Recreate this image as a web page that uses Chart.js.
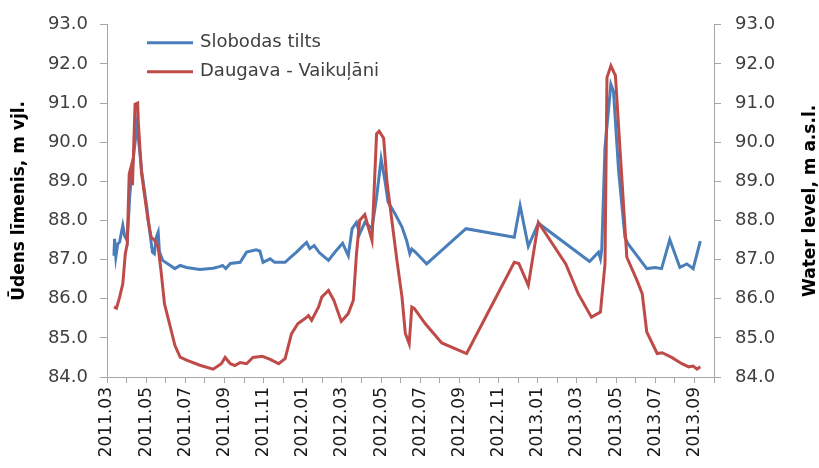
<!DOCTYPE html>
<html>
<head>
<meta charset="utf-8">
<script src="https://cdn.jsdelivr.net/npm/chart.js@4.4.0/dist/chart.umd.min.js"></script>
<style>
  body { margin: 0; background: #fff; }
</style>
</head>
<body>
<canvas id="chart" width="819" height="468"></canvas>
<script>
// Slobodas tilts (blue)
const blueDates = ['2011-03-12','2011-03-13','2011-03-15','2011-03-18','2011-03-21','2011-03-26','2011-03-29','2011-04-02','2011-04-06','2011-04-11',
  '2011-04-17','2011-04-24','2011-05-02','2011-05-07','2011-05-11','2011-05-14','2011-05-17','2011-05-20','2011-05-22','2011-05-27',
  '2011-06-08','2011-06-15','2011-06-23','2011-07-03','2011-07-24','2011-08-14','2011-08-24','2011-08-29','2011-09-03','2011-09-10',
  '2011-09-25','2011-10-05','2011-10-20','2011-10-26','2011-10-31','2011-11-11','2011-11-18','2011-12-04','2011-12-12','2011-12-22',
  '2011-12-30','2012-01-07','2012-01-12','2012-01-19','2012-01-27','2012-02-10','2012-02-20','2012-03-02','2012-03-11','2012-03-17',
  '2012-03-24','2012-03-29','2012-04-06','2012-04-17','2012-04-24','2012-05-01','2012-05-07','2012-05-12','2012-05-23','2012-06-03',
  '2012-06-10','2012-06-15','2012-06-18','2012-06-23','2012-07-11','2012-09-11','2012-11-25','2012-12-04','2012-12-17','2013-01-02',
  '2013-03-21','2013-04-04','2013-04-07','2013-04-09','2013-04-14','2013-04-23','2013-04-27','2013-05-05','2013-05-15','2013-05-20',
  '2013-06-18','2013-07-01','2013-07-11','2013-07-24','2013-08-09','2013-08-20','2013-08-30','2013-09-10'];
const blueLevels = [87.10,87.53,87.07,87.40,87.45,87.87,87.60,87.48,88.68,89.53,
  90.46,89.27,88.34,87.67,87.19,87.15,87.57,87.70,87.20,86.98,
  86.85,86.77,86.85,86.80,86.75,86.78,86.82,86.85,86.77,86.90,
  86.93,87.19,87.25,87.22,86.93,87.02,86.93,86.93,87.05,87.19,
  87.32,87.44,87.28,87.36,87.18,86.98,87.20,87.42,87.10,87.79,
  87.95,87.66,87.95,87.80,88.59,89.57,89.02,88.47,88.17,87.83,
  87.49,87.15,87.27,87.20,86.89,87.79,87.57,88.38,87.34,87.93,
  86.95,87.19,87.02,87.25,89.87,91.48,91.30,89.27,87.57,87.40,
  86.77,86.80,86.77,87.51,86.80,86.89,86.77,87.47];

// Daugava - Vaikuļāni (red)
const redDates = ['2011-03-12','2011-03-16','2011-03-21','2011-03-26','2011-03-30','2011-04-02','2011-04-05','2011-04-09','2011-04-10','2011-04-14',
  '2011-04-18','2011-04-19','2011-04-24','2011-04-29','2011-05-04','2011-05-09','2011-05-14','2011-05-20','2011-05-25','2011-05-30',
  '2011-06-08','2011-06-15','2011-06-23','2011-07-03','2011-07-24','2011-08-14','2011-08-27','2011-09-02','2011-09-10','2011-09-17',
  '2011-09-25','2011-10-05','2011-10-15','2011-10-30','2011-11-11','2011-11-24','2011-12-04','2011-12-14','2011-12-24','2012-01-05',
  '2012-01-10','2012-01-15','2012-01-26','2012-01-31','2012-02-10','2012-02-18','2012-02-29','2012-03-11','2012-03-19','2012-03-24',
  '2012-03-29','2012-04-06','2012-04-17','2012-04-24','2012-04-28','2012-05-05','2012-05-10','2012-05-18','2012-05-26','2012-06-03',
  '2012-06-08','2012-06-14','2012-06-18','2012-06-22','2012-07-09','2012-08-04','2012-09-12','2012-11-25','2012-12-02','2012-12-17',
  '2013-01-02','2013-02-13','2013-03-03','2013-03-24','2013-04-07','2013-04-14','2013-04-17','2013-04-23','2013-04-30','2013-05-05',
  '2013-05-18','2013-06-03','2013-06-11','2013-06-18','2013-07-04','2013-07-12','2013-07-27','2013-08-12','2013-08-23','2013-08-30',
  '2013-09-05','2013-09-10'];
const redLevels = [85.79,85.76,86.04,86.38,87.15,87.40,89.19,89.44,88.90,90.97,
  91.00,90.50,89.20,88.59,88.00,87.57,87.50,87.32,86.64,85.87,
  85.28,84.81,84.51,84.43,84.30,84.20,84.34,84.50,84.34,84.29,
  84.37,84.34,84.50,84.53,84.45,84.34,84.47,85.10,85.36,85.50,
  85.57,85.45,85.79,86.04,86.21,85.96,85.42,85.62,85.96,87.15,
  88.00,88.15,87.49,90.21,90.28,90.10,89.02,88.00,86.98,86.04,
  85.12,84.85,85.79,85.75,85.36,84.87,84.60,86.93,86.90,86.34,
  87.95,86.89,86.13,85.53,85.66,86.89,91.65,91.95,91.70,90.38,
  87.06,86.47,86.13,85.15,84.60,84.62,84.50,84.34,84.26,84.28,
  84.20,84.26];

const tickLabels = ['2011.03','2011.05','2011.07','2011.09','2011.11','2012.01','2012.03','2012.05',
  '2012.07','2012.09','2012.11','2013.01','2013.03','2013.05','2013.07','2013.09'];

const seriesNames = ['Slobodas tilts', 'Daugava - Vaikuļāni'];
const seriesColors = ['#4a7ebb', '#be4b48'];

const FONT = 'DejaVu Sans';
const axisGray = '#a6a6a6';

// months since 2011-03-01 (fractional)
function monthIndex(s) {
  const [y, m, d] = s.split('-').map(Number);
  const dim = new Date(y, m, 0).getDate();
  return (y - 2011) * 12 + (m - 3) + (d - 1) / dim;
}

function points(dates, vals) {
  return dates.map((d, i) => ({ x: monthIndex(d), y: vals[i] }));
}

// legend inside the plot + right axis title (reads bottom to top)
const insideLegend = {
  id: 'insideLegend',
  afterDraw(chart) {
    const ctx = chart.ctx;
    const a = chart.chartArea;
    ctx.save();
    ctx.font = '18px "' + FONT + '"';
    ctx.textBaseline = 'middle';
    ctx.fillStyle = '#404040';
    seriesNames.forEach((name, i) => {
      const y = a.top + 18 + i * 29;
      const x = a.left + 40;
      ctx.strokeStyle = seriesColors[i];
      ctx.lineWidth = 3;
      ctx.beginPath();
      ctx.moveTo(x, y);
      ctx.lineTo(x + 46, y);
      ctx.stroke();
      ctx.fillText(name, x + 53, y);
    });
    ctx.translate(chart.width - 8, (a.top + a.bottom) / 2);
    ctx.rotate(-Math.PI / 2);
    ctx.font = 'bold 17px "' + FONT + '"';
    ctx.fillStyle = '#000';
    ctx.textAlign = 'center';
    ctx.fillText('Water level, m a.s.l.', 0, 0);
    ctx.restore();
  }
};

const yTicks = {
  stepSize: 1,
  color: '#404040',
  font: { family: FONT, size: 18 },
  callback: v => v.toFixed(1)
};

new Chart(document.getElementById('chart'), {
  type: 'line',
  data: {
    datasets: [
      {
        label: seriesNames[0],
        data: points(blueDates, blueLevels),
        borderColor: seriesColors[0],
        borderWidth: 3,
        pointRadius: 0,
        tension: 0,
        order: 1
      },
      {
        label: seriesNames[1],
        data: points(redDates, redLevels),
        borderColor: seriesColors[1],
        borderWidth: 3,
        pointRadius: 0,
        tension: 0,
        order: 0
      }
    ]
  },
  options: {
    responsive: false,
    animation: false,
    devicePixelRatio: 1,
    layout: { padding: { top: 11, left: 0, right: 0, bottom: 0 } },
    plugins: { legend: { display: false }, tooltip: { enabled: false } },
    scales: {
      x: {
        type: 'linear',
        min: 0,
        max: 31,
        afterFit(s) { s.height = 91; },
        ticks: {
          stepSize: 1,
          autoSkip: false,
          minRotation: 90,
          maxRotation: 90,
          padding: 4,
          color: '#1a1a1a',
          font: { family: FONT, size: 17 },
          callback: v => (v % 2 === 0 ? tickLabels[v / 2] : '')
        },
        grid: { drawOnChartArea: false, drawTicks: true, tickLength: 6, color: axisGray },
        border: { color: axisGray, width: 1 }
      },
      y: {
        position: 'left',
        min: 84,
        max: 93,
        afterFit(s) { s.width = 107; },
        ticks: Object.assign({ padding: 12 }, yTicks),
        grid: { drawOnChartArea: false, tickLength: 7, color: axisGray },
        border: { color: axisGray, width: 1 },
        title: {
          display: true,
          text: 'Ūdens līmenis, m vjl.',
          color: '#000',
          font: { family: FONT, size: 17, weight: 'bold' },
          padding: { top: 9, bottom: 0 }
        }
      },
      y1: {
        position: 'right',
        min: 84,
        max: 93,
        afterFit(s) { s.width = 105; },
        ticks: Object.assign({ padding: 14 }, yTicks),
        grid: { drawOnChartArea: false, tickLength: 7, color: axisGray },
        border: { color: axisGray, width: 1 }
      }
    }
  },
  plugins: [insideLegend]
});
</script>
</body>
</html>
